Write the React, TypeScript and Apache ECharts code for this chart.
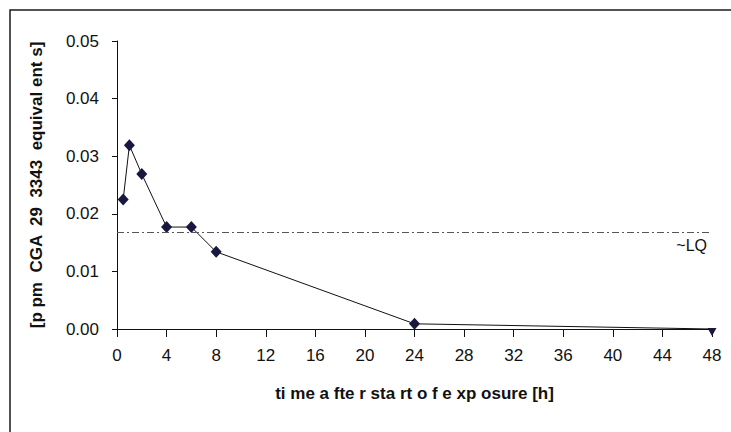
import React, { useEffect, useRef } from "react";
import * as echarts from "echarts";

const hours = [0.5, 1, 2, 4, 6, 8, 24, 48];
const ppm = [0.0225, 0.0319, 0.0269, 0.0177, 0.0177, 0.0134, 0.0009, 0];
const lqValue = 0.0168;
const lqLabel = "~LQ";
const xTitle = "ti me a fte r sta rt o f e xp osure [h]";
const yTitle = "[p pm  CGA  29  3343  equival ent s]";

const FONT = "'Liberation Sans', Arial, sans-serif";

export default function App() {
  const ref = useRef<HTMLDivElement>(null);
  useEffect(() => {
    if (!ref.current) return;
    const chart = echarts.init(ref.current, null, { renderer: "svg" });
    const data = hours.map((h, i) => {
      const last = i === hours.length - 1;
      return last
        ? { value: [h, ppm[i]], symbol: "triangle", symbolRotate: 180, symbolSize: [9, 8], symbolOffset: [0, 3] }
        : { value: [h, ppm[i]] };
    });
    chart.setOption({
      animation: false,
      backgroundColor: "#ffffff",
      textStyle: { fontFamily: FONT },
      grid: { left: 117, top: 41, width: 595, height: 288, containLabel: false },
      graphic: [
        {
          type: "rect",
          shape: { x: 10, y: 10, width: 730, height: 430 },
          style: { fill: "none", stroke: "#1a1a1a", lineWidth: 1.5 },
          silent: true,
        },
      ],
      xAxis: {
        type: "value",
        min: 0,
        max: 48,
        interval: 4,
        name: xTitle,
        nameLocation: "middle",
        nameGap: 56,
        nameTextStyle: { fontFamily: FONT, fontSize: 17, fontWeight: "bold", color: "#111" },
        axisLine: { show: true, onZero: false, lineStyle: { color: "#111", width: 1 } },
        axisTick: { show: true, inside: false, length: 8, lineStyle: { color: "#111" } },
        axisLabel: { margin: 18, fontSize: 17, color: "#111", fontFamily: FONT },
        splitLine: { show: false },
      },
      yAxis: {
        type: "value",
        min: 0,
        max: 0.05,
        interval: 0.01,
        name: yTitle,
        nameLocation: "middle",
        nameGap: 72,
        nameTextStyle: { fontFamily: FONT, fontSize: 17, fontWeight: "bold", color: "#111" },
        axisLine: { show: true, lineStyle: { color: "#111", width: 1 } },
        axisTick: { show: true, inside: false, length: 5, lineStyle: { color: "#111" } },
        axisLabel: {
          margin: 18,
          fontSize: 17,
          color: "#111",
          fontFamily: FONT,
          formatter: (v: number) => v.toFixed(2),
        },
        splitLine: { show: false },
      },
      series: [
        {
          type: "line",
          data,
          symbol: "diamond",
          symbolSize: [11, 12],
          itemStyle: { color: "#17173f" },
          lineStyle: { color: "#111", width: 1 },
          z: 3,
          markLine: {
            silent: true,
            symbol: "none",
            precision: 4,
            data: [{ yAxis: lqValue }],
            lineStyle: { color: "#555", width: 1, type: [7, 3, 2, 3] },
            label: {
              show: true,
              position: "insideEndBottom",
              formatter: lqLabel,
              fontSize: 16,
              color: "#111",
              fontFamily: FONT,
              distance: 5,
            },
          },
        },
      ],
    });
    return () => chart.dispose();
  }, []);
  return (
    <div
      ref={ref}
      style={{ position: "fixed", left: 0, top: 0, width: 731, height: 432, background: "#fff" }}
    />
  );
}
